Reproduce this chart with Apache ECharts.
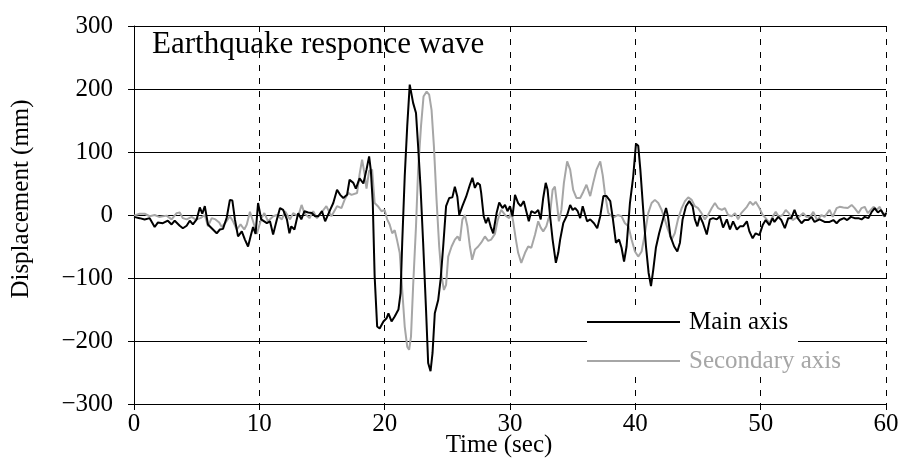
<!DOCTYPE html>
<html>
<head>
<meta charset="utf-8">
<script src="https://cdn.jsdelivr.net/npm/echarts@6/dist/echarts.min.js"></script>
<style>
  html, body { margin: 0; padding: 0; background: #fff; }
  #chart { width: 901px; height: 459px; }
</style>
</head>
<body>
<div id="chart"></div>
<script>
// Displacement response, main axis (black trace): time [s] and displacement [mm]
const mainTime = [
  0.0, 0.45, 0.85, 1.25, 1.65, 1.9, 2.3, 2.7, 3.0, 3.25, 3.65, 3.9, 4.2, 4.45, 4.7, 5.0,
  5.25, 5.45, 5.65, 5.9, 6.3, 6.6, 6.85, 7.1, 7.4, 7.65, 7.85, 8.05, 8.3, 8.6, 8.85, 9.1,
  9.3, 9.5, 9.7, 9.9, 10.15, 10.6, 10.85, 11.1, 11.4, 11.65, 11.9, 12.2, 12.4, 12.55, 12.8,
  13.1, 13.35, 13.6, 13.9, 14.2, 14.45, 14.7, 15.0, 15.25, 15.65, 15.9, 16.2, 16.45, 16.7,
  17.0, 17.2, 17.5, 17.7, 18.0, 18.3, 18.55, 18.76, 18.9, 19.05, 19.2, 19.4, 19.6, 19.9,
  20.15, 20.3, 20.55, 20.8, 21.1, 21.27, 21.4, 21.6, 21.8, 22.0, 22.15, 22.27, 22.5, 22.67,
  22.86, 23.07, 23.3, 23.47, 23.66, 23.82, 24.0, 24.27, 24.46, 24.67, 24.9, 25.15, 25.4,
  25.6, 25.8, 25.95, 26.2, 26.5, 26.8, 27.0, 27.2, 27.4, 27.6, 27.7, 27.9, 28.08, 28.26,
  28.45, 28.66, 28.93, 29.14, 29.4, 29.6, 29.8, 30.0, 30.2, 30.4, 30.65, 30.85, 31.1, 31.3,
  31.5, 31.7, 32.0, 32.25, 32.45, 32.65, 32.85, 33.0, 33.2, 33.4, 33.66, 33.85, 34.0, 34.25,
  34.56, 34.8, 35.0, 35.2, 35.4, 35.6, 35.8, 36.0, 36.15, 36.4, 36.7, 36.96, 37.2, 37.45,
  37.7, 38.0, 38.2, 38.45, 38.7, 38.9, 39.1, 39.3, 39.57, 39.83, 40.05, 40.23, 40.4, 40.63,
  40.85, 41.06, 41.25, 41.43, 41.64, 41.9, 42.2, 42.45, 42.6, 42.8, 43.1, 43.35, 43.56,
  43.77, 44.04, 44.3, 44.57, 44.75, 44.95, 45.15, 45.4, 45.7, 45.95, 46.2, 46.5, 46.75, 47.0,
  47.3, 47.55, 47.8, 48.1, 48.35, 48.6, 48.9, 49.1, 49.36, 49.6, 49.9, 50.16, 50.4, 50.7,
  50.95, 51.1, 51.4, 51.65, 51.93, 52.2, 52.45, 52.7, 52.95, 53.26, 53.5, 53.8, 54.06, 54.3,
  54.7, 55.1, 55.5, 55.8, 56.06, 56.3, 56.65, 56.9, 57.2, 57.5, 57.8, 58.05, 58.3, 58.6,
  58.86, 59.1, 59.35, 59.6, 59.9, 60.0
];
const mainDisp = [
  -3, -5, -7, -5, -19, -12, -13, -9, -15, -9, -17, -21, -17, -9, -15, -7,
  12, 2, 14, -15, -23, -29, -23, -22, -4, 24, 23, -7, -34, -26, -39, -50,
  -34, -19, -30, 19, -7, -13, -10, -31, -7, 11, 8, -7, -29, -18, -23,
  3, -7, 6, 4, 3, -2, -2, 6, -10, 8, 19, 40, 32, 27,
  32, 56, 51, 42, 58, 50, 72, 93, 70, 20, -97, -177, -180, -169,
  -164, -156, -169, -161, -150, -124, -44, 61, 141, 207, 204, 178, 162, 109,
  45, -44, -150, -235, -248, -219, -156, -135, -103, -50, 14, 27, 28,
  45, 29, 0, 14, 29, 48, 59, 43, 51, 48, 35, -2, -13, -4,
  -18, -29, 3, 20, 11, 16, 6, 14, -2, 32, 19, 14, 22, 6,
  -10, 6, 3, 8, -7, 27, 51, 40, -2, -39, -76, -60, -39, -13,
  0, 16, 8, 11, 6, -5, 14, 0, -10, -7, -13, -21, -2, 30,
  30, 22, -5, -44, -39, -52, -74, -50, 19, 61, 113, 110, 72, 8,
  -50, -92, -113, -87, -52, -29, -7, 11, -2, -34, -50, -58, -44,
  -7, 14, 22, 14, -7, -18, -2, -13, -31, -7, -5, -7, -2, -20,
  -7, -23, -10, -23, -18, -18, -10, -26, -37, -29, -32, -16, -8, -16,
  -5, -11, -3, -8, -21, -5, -5, 8, -5, -13, -8, -8, -3, -11,
  -7, -11, -11, -8, -13, -8, -5, -8, -3, -5, -5, -7, -3, -5,
  5, 11, 4, 8, -2, 3
];

// Displacement response, secondary axis (grey trace): time [s] and displacement [mm]
const secTime = [
  0.0, 0.45, 0.85, 1.25, 1.65, 2.0, 2.6, 3.0, 3.4, 3.65, 3.9, 4.2, 4.6, 4.9, 5.3, 5.65,
  5.9, 6.2, 6.5, 6.8, 7.0, 7.3, 7.65, 7.9, 8.2, 8.5, 8.8, 9.0, 9.25, 9.5, 9.8, 10.17,
  10.4, 10.7, 11.1, 11.4, 11.8, 12.05, 12.45, 12.7, 13.1, 13.37, 13.6, 14.0, 14.3, 14.6,
  14.8, 15.35, 15.75, 16.2, 16.55, 16.8, 17.1, 17.35, 17.8, 18.0, 18.2, 18.4, 18.55, 18.76,
  19.0, 19.2, 19.5, 19.75, 20.0, 20.2, 20.4, 20.6, 20.8, 21.0, 21.2, 21.4, 21.6, 21.8,
  21.95, 22.1, 22.27, 22.5, 22.67, 22.9, 23.1, 23.35, 23.55, 23.74, 23.93, 24.14, 24.35,
  24.54, 24.73, 24.9, 25.07, 25.34, 25.6, 25.82, 26.0, 26.2, 26.4, 26.6, 26.8, 26.98, 27.2,
  27.46, 27.7, 28.0, 28.26, 28.5, 28.8, 29.0, 29.14, 29.3, 29.45, 29.7, 29.94, 30.1, 30.25,
  30.47, 30.65, 30.9, 31.2, 31.45, 31.7, 32.0, 32.25, 32.45, 32.65, 32.9, 33.2, 33.4, 33.58,
  33.77, 33.9, 34.1, 34.3, 34.56, 34.8, 35.04, 35.3, 35.6, 35.85, 36.1, 36.4, 36.64, 36.9,
  37.2, 37.4, 37.57, 37.84, 38.25, 38.6, 38.9, 39.17, 39.45, 39.7, 39.97, 40.23, 40.5,
  40.77, 41.03, 41.3, 41.56, 41.83, 42.1, 42.35, 42.6, 42.9, 43.15, 43.4, 43.7, 43.96,
  44.22, 44.5, 44.75, 45.0, 45.28, 45.55, 45.8, 46.1, 46.35, 46.6, 46.9, 47.15, 47.4, 47.7,
  47.95, 48.2, 48.45, 48.6, 48.9, 49.15, 49.4, 49.6, 49.9, 50.16, 50.4, 50.7, 50.95, 51.2,
  51.45, 51.75, 52.0, 52.25, 52.55, 52.8, 53.05, 53.4, 53.65, 53.95, 54.2, 54.5, 54.85,
  55.1, 55.5, 55.75, 56.06, 56.3, 56.6, 56.95, 57.26, 57.5, 57.8, 58.05, 58.3, 58.55, 59.0,
  59.25, 59.5, 59.85, 60.0
];
const secDisp = [
  -1, 2, 2, -2, 0, -3, -1, -7, 3, 4, -5, -7, -3, -7, -5, 0,
  -18, -5, -7, -12, -19, -12, -2, -10, -23, -15, -23, -15, 5, -10, -30, -5,
  3, -10, -2, 0, -7, 6, -7, 3, -2, 16, 3, -5, 6, -5,
  0, 14, -2, 14, 11, 24, 35, 32, 35, 65, 88, 65, 42, 70,
  72, 19, 13, 6, 8, -7, -15, -29, -24, -41, -60, -119, -177, -209,
  -214, -193, -113, -18, 72, 141, 188, 196, 191, 167, 109, 24, -50,
  -97, -119, -111, -66, -50, -39, -34, -41, -7, 0, -18, -50, -71, -55,
  -50, -44, -34, -41, -39, -30, -10, 0, 8, 6, -2, -5, 5, -10,
  -39, -60, -76, -60, -50, -52, -31, -10, -20, -26, -18, 3, 40, 45,
  14, -10, 8, 51, 85, 72, 40, 27, 27, 37, 48, 30, 51, 72,
  85, 63, 35, 3, -4, 0, -2, -13, -18, -39, -58, -66, -58,
  -29, 3, 19, 24, 19, 8, -7, -23, -39, -29, -7, 11, 22,
  28, 24, 14, 11, 3, -7, 0, 11, 19, 11, 8, 11, 0, -2,
  3, -7, 3, 3, 13, 21, 16, 21, 11, 0, -5, -13, -3, 5,
  -3, 0, 8, 3, -8, -5, -3, 3, -3, -3, 5, -8, 0,
  -3, 8, -3, 11, 13, 12, 11, 16, 11, 3, 11, 13, 3, 13,
  8, 13, -3, 5
];

// Axis ranges and labels
const timeRange = [0, 60, 10];
const dispRange = [-300, 300, 100];
const seriesNames = ['Main axis', 'Secondary axis'];
const seriesColors = ['#000000', '#a6a6a6'];
const chartTitle = 'Earthquake responce wave';
const xAxisName = 'Time (sec)';
const yAxisName = 'Displacement (mm)';

const zip = (t, v) => t.map((x, i) => [x, v[i]]);
const FONT = "'Liberation Serif', 'Times New Roman', serif";

const chart = echarts.init(document.getElementById('chart'));
chart.setOption({
  animation: false,
  backgroundColor: '#ffffff',
  textStyle: { fontFamily: FONT },
  title: {
    text: chartTitle,
    left: 152,
    top: 29,
    padding: 0,
    textStyle: { fontFamily: FONT, fontSize: 31, fontWeight: 'normal', color: '#000' }
  },
  grid: { left: 134, right: 15, top: 26, bottom: 55, containLabel: false, outerBoundsMode: 'none' },
  graphic: [{
    // white backing behind the legend box
    type: 'rect',
    z: 1,
    shape: { x: 587, y: 306, width: 211, height: 70 },
    style: { fill: '#ffffff' }
  }],
  legend: {
    orient: 'vertical',
    left: 587,
    top: 309,
    padding: 0,
    itemWidth: 93,
    itemHeight: 2,
    itemGap: 13,
    icon: 'rect',
    textStyle: { fontFamily: FONT, fontSize: 25, lineHeight: 26, padding: [0, 0, 0, 4] },
    data: [
      { name: seriesNames[0], textStyle: { color: seriesColors[0] } },
      { name: seriesNames[1], textStyle: { color: seriesColors[1] } }
    ]
  },
  xAxis: {
    type: 'value',
    min: timeRange[0], max: timeRange[1], interval: timeRange[2],
    name: xAxisName,
    nameLocation: 'middle',
    nameGap: 29,
    nameMoveOverlap: false,
    nameTextStyle: { fontFamily: FONT, fontSize: 25, color: '#000', padding: [0, 22, 0, 0] },
    axisLine: { show: true, onZero: false, lineStyle: { color: '#000', width: 1 } },
    axisTick: { show: true, inside: false, length: 6, lineStyle: { color: '#000' } },
    axisLabel: { fontFamily: FONT, fontSize: 25, color: '#000', margin: 8 },
    splitLine: { show: true, lineStyle: { color: '#000', width: 1, type: [6, 7] } }
  },
  yAxis: {
    type: 'value',
    min: dispRange[0], max: dispRange[1], interval: dispRange[2],
    name: yAxisName,
    nameLocation: 'middle',
    nameRotate: 90,
    nameGap: 100,
    nameMoveOverlap: false,
    nameTextStyle: { fontFamily: FONT, fontSize: 25, color: '#000', padding: [0, 0, 0, 32] },
    axisLine: { show: true, onZero: false, lineStyle: { color: '#000', width: 1 } },
    axisTick: { show: true, inside: false, length: 6, lineStyle: { color: '#000' } },
    axisLabel: {
      fontFamily: FONT, fontSize: 25, color: '#000', margin: 21,
      formatter: v => (v < 0 ? '\u2212' + Math.abs(v) : String(v))
    },
    splitLine: { show: true, lineStyle: { color: '#000', width: 1 } }
  },
  series: [
    {
      name: seriesNames[1],
      type: 'line',
      data: zip(secTime, secDisp),
      showSymbol: false,
      symbol: 'none',
      z: 2,
      lineStyle: { color: seriesColors[1], width: 2 },
      itemStyle: { color: seriesColors[1] }
    },
    {
      name: seriesNames[0],
      type: 'line',
      data: zip(mainTime, mainDisp),
      showSymbol: false,
      symbol: 'none',
      z: 3,
      lineStyle: { color: seriesColors[0], width: 2 },
      itemStyle: { color: seriesColors[0] }
    }
  ]
});
</script>
</body>
</html>
